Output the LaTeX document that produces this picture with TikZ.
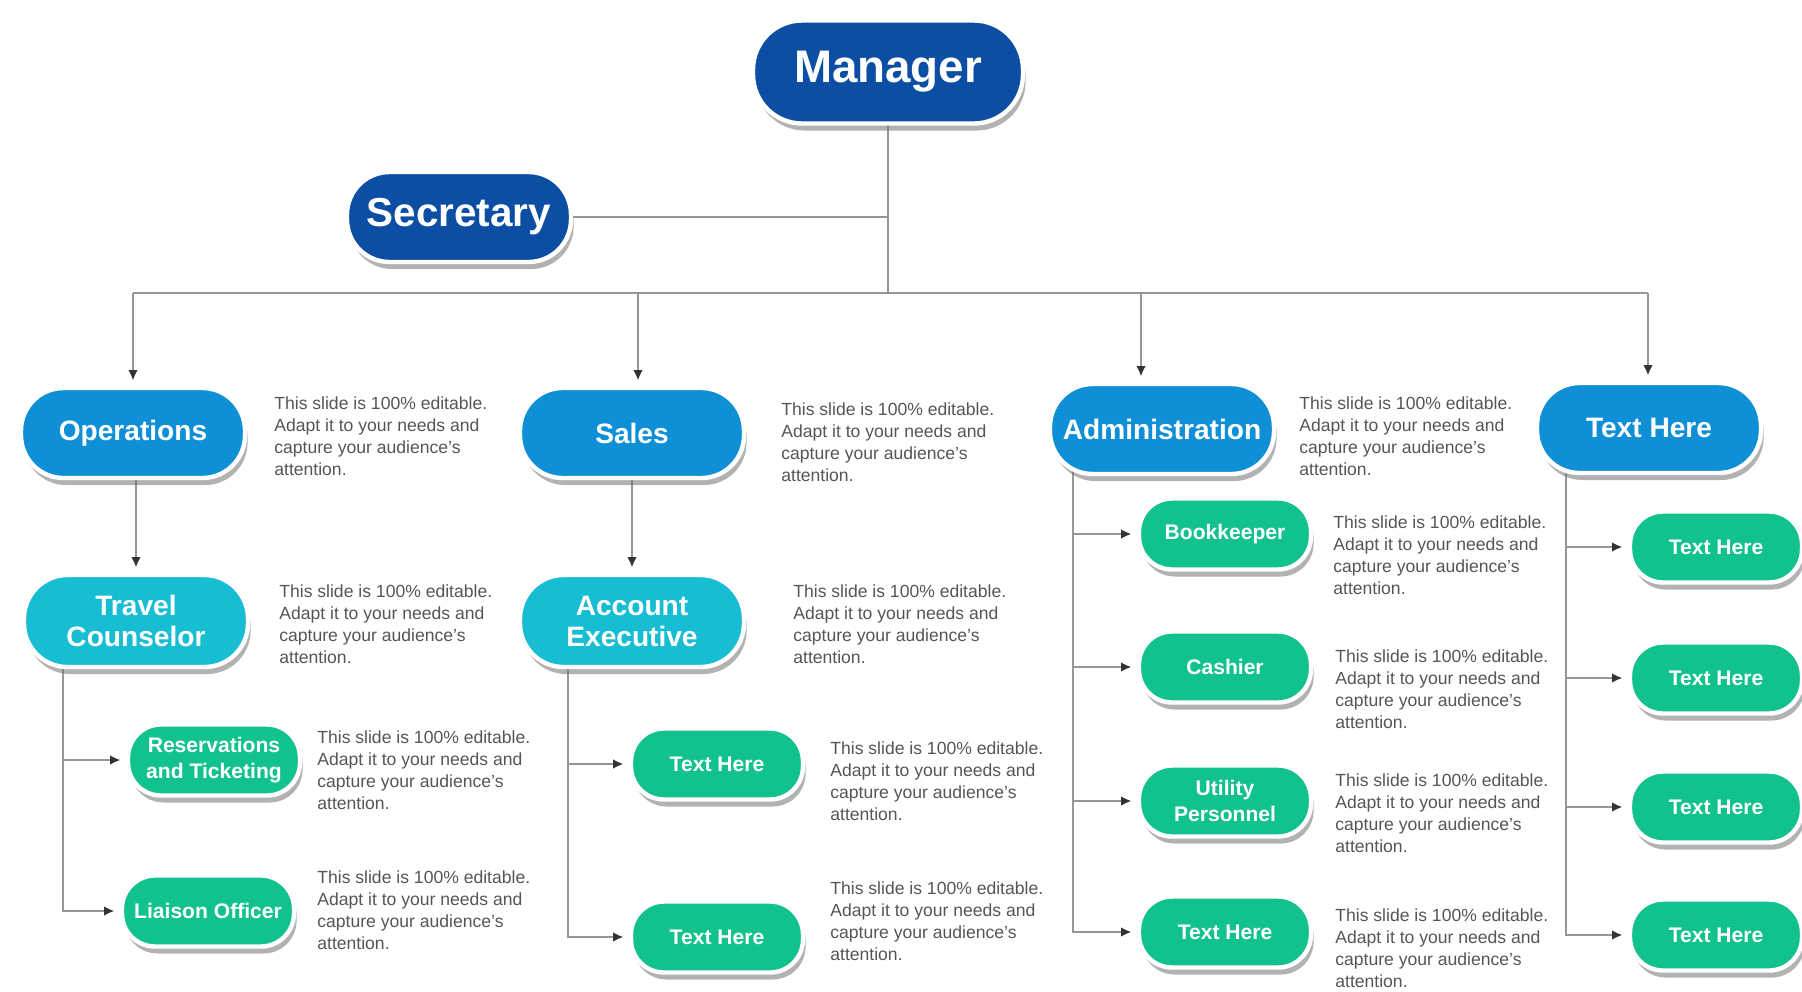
\documentclass[tikz,border=0pt]{standalone}
\usepackage{fontspec}
\setmainfont{Liberation Sans}
\usepackage{xcolor}
\usepackage{tikz}
\usetikzlibrary{shapes,arrows.meta,positioning,calc,shadows,backgrounds}

\definecolor{mgrblue}{RGB}{12,78,163}
\definecolor{deptblue}{RGB}{14,143,214}
\definecolor{teamcyan}{RGB}{22,189,211}
\definecolor{staffgreen}{RGB}{17,194,142}
\definecolor{linegray}{RGB}{150,150,150}
\definecolor{descgray}{RGB}{85,85,85}

\newcommand{\slidenote}{This slide is 100\% editable.\\Adapt it to your needs and\\capture your audience's\\attention.}

\begin{document}
\begin{tikzpicture}[
    x=0.02cm, y=-0.02cm,
    pill/.style={draw=white, line width=2.5pt, rectangle, text=white, align=center, inner xsep=2pt,
        drop shadow={shadow xshift=1.5pt, shadow yshift=-4pt, opacity=0.55, fill=black!55}},
    headbox/.style={pill, fill=mgrblue, minimum width=5.4cm, minimum height=2.06cm, rounded corners=0.98cm,
        font=\bfseries\fontsize{26}{28}\selectfont},
    secbox/.style={pill, fill=mgrblue, minimum width=4.48cm, minimum height=1.8cm, rounded corners=0.85cm,
        font=\bfseries\fontsize{23}{25}\selectfont},
    deptbox/.style={pill, fill=deptblue, minimum width=4.48cm, minimum height=1.8cm, rounded corners=0.85cm,
        font=\bfseries\fontsize{16}{18}\selectfont},
    teambox/.style={pill, fill=teamcyan, minimum width=4.48cm, minimum height=1.84cm, rounded corners=0.87cm,
        font=\bfseries\fontsize{16}{17.6}\selectfont},
    staffbox/.style={pill, fill=staffgreen, minimum width=3.44cm, minimum height=1.42cm, rounded corners=0.66cm,
        font=\bfseries\fontsize{12}{14.5}\selectfont},
    desc/.style={anchor=north west, inner sep=0pt, align=left, text=descgray, font=\fontsize{10}{12.6}\selectfont},
    conn/.style={draw=linegray, line width=1.4pt},
    arr/.style={conn, -{Latex[length=6pt, width=5.5pt, color=black!80]}, shorten >=3pt}
]
    \useasboundingbox (0,0) rectangle (1802,991);

    \node [headbox] (mgr) at (888,72) {Manager};
    \node [secbox] (sec) at (459,217) {Secretary};

    \node [deptbox] (ops) at (133,433) {Operations};
    \node [deptbox] (sales) at (632,433) {Sales};
    \node [deptbox] (adm) at (1162,429) {Administration};
    \node [deptbox] (txt) at (1649,428) {Text Here};

    \node [teambox] (trv) at (136,621) {Travel\\Counselor};
    \node [teambox] (acc) at (632,621) {Account\\Executive};

    \node [staffbox] (res) at (214,760) {Reservations\\and Ticketing};
    \node [staffbox] (lia) at (208,911) {Liaison Officer};
    \node [staffbox] (acc1) at (717,764) {Text Here};
    \node [staffbox] (acc2) at (717,937) {Text Here};
    \node [staffbox] (bkp) at (1225,534) {Bookkeeper};
    \node [staffbox] (csh) at (1225,667) {Cashier};
    \node [staffbox] (utl) at (1225,801) {Utility\\Personnel};
    \node [staffbox] (adm4) at (1225,932) {Text Here};
    \node [staffbox] (txt1) at (1716,547) {Text Here};
    \node [staffbox] (txt2) at (1716,678) {Text Here};
    \node [staffbox] (txt3) at (1716,807) {Text Here};
    \node [staffbox] (txt4) at (1716,935) {Text Here};

    \node [desc] (opsd) at (274,396) {\slidenote};
    \node [desc] (salesd) at (781,402) {\slidenote};
    \node [desc] (admd) at (1299,396) {\slidenote};
    \node [desc] (trvd) at (279,584) {\slidenote};
    \node [desc] (accd) at (793,584) {\slidenote};
    \node [desc] (resd) at (317,730) {\slidenote};
    \node [desc] (liad) at (317,870) {\slidenote};
    \node [desc] (acc1d) at (830,741) {\slidenote};
    \node [desc] (acc2d) at (830,881) {\slidenote};
    \node [desc] (bkpd) at (1333,515) {\slidenote};
    \node [desc] (cshd) at (1335,649) {\slidenote};
    \node [desc] (utld) at (1335,773) {\slidenote};
    \node [desc] (adm4d) at (1335,908) {\slidenote};

    \coordinate (b1) at (133,293);
    \coordinate (b2) at (638,293);
    \coordinate (b3) at (1141,293);
    \coordinate (b4) at (1648,293);
    \coordinate (t1) at (63,0);
    \coordinate (t2) at (568,0);
    \coordinate (t3) at (1073,0);
    \coordinate (t4) at (1566,0);

    \begin{scope}[on background layer]
        \draw [conn] (mgr.center) -- (mgr.center |- b1);
        \draw [conn] (sec.center) -- (sec.center -| mgr.center);
        \draw [conn] (b1) -- (b4);
        \draw [arr] (b1) -- (b1 |- ops.north);
        \draw [arr] (b2) -- (b2 |- sales.north);
        \draw [arr] (b3) -- (b3 |- adm.north);
        \draw [arr] (b4) -- (b4 |- txt.north);

        \draw [arr] (trv.north |- ops.center) -- (trv.north);
        \draw [arr] (acc.north |- sales.center) -- (acc.north);

        \draw [arr] (t1 |- trv.center) |- (lia.west);
        \draw [arr] (t1 |- res.west) -- (res.west);

        \draw [arr] (t2 |- acc.center) |- (acc2.west);
        \draw [arr] (t2 |- acc1.west) -- (acc1.west);

        \draw [arr] (t3 |- adm.center) |- (adm4.west);
        \draw [arr] (t3 |- bkp.west) -- (bkp.west);
        \draw [arr] (t3 |- csh.west) -- (csh.west);
        \draw [arr] (t3 |- utl.west) -- (utl.west);

        \draw [arr] (t4 |- txt.center) |- (txt4.west);
        \draw [arr] (t4 |- txt1.west) -- (txt1.west);
        \draw [arr] (t4 |- txt2.west) -- (txt2.west);
        \draw [arr] (t4 |- txt3.west) -- (txt3.west);
    \end{scope}
\end{tikzpicture}
\end{document}
